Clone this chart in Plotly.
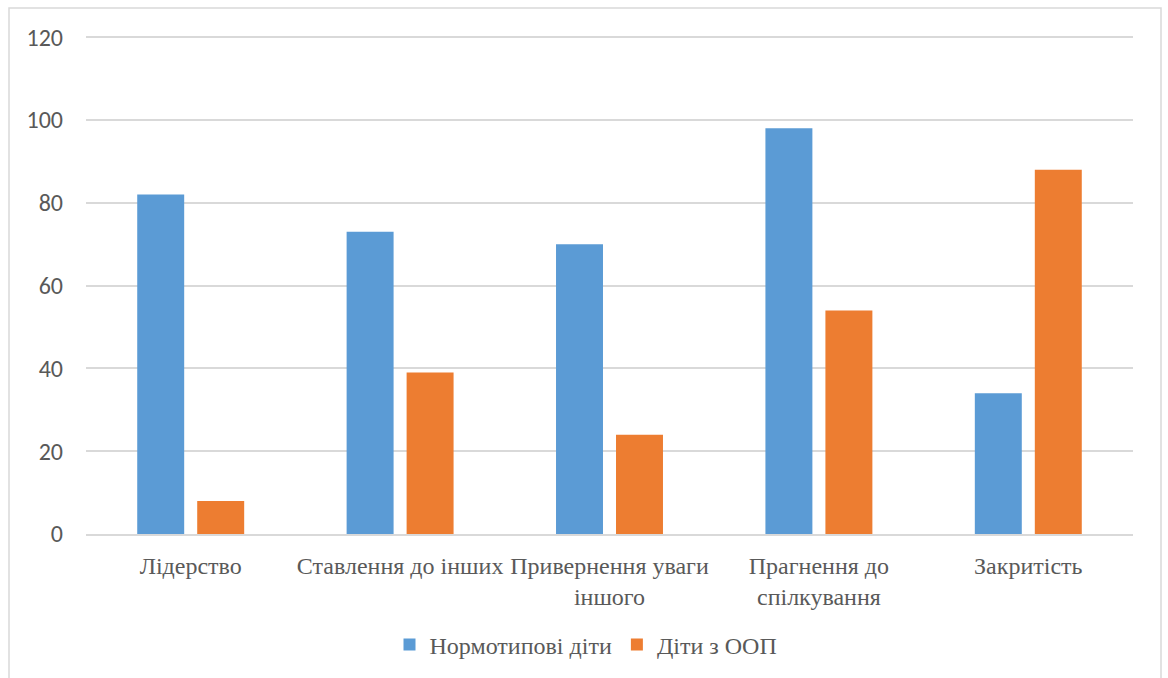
import plotly.graph_objects as go

categories = [
    "Лідерство",
    "Ставлення до інших",
    "Привернення уваги<br>іншого",
    "Прагнення до<br>спілкування",
    "Закритість",
]
normotypical = [82, 73, 70, 98, 34]
special_needs = [8, 39, 24, 54, 88]
y_ticks = [0, 20, 40, 60, 80, 100, 120]

BLUE = "#5B9BD5"
ORANGE = "#ED7D31"
GRID = "#D9D9D9"
TEXT = "#595959"
SERIF = "Liberation Serif"
SANS = "Carlito"

W, H = 1168, 678
L, R, T, B = 86, 35, 33, 143

fig = go.Figure()
fig.add_trace(go.Bar(x=categories, y=normotypical, name="Нормотипові діти",
                     marker=dict(color=BLUE, line=dict(width=0))))
fig.add_trace(go.Bar(x=categories, y=special_needs, name="Діти з ООП",
                     marker=dict(color=ORANGE, line=dict(width=0))))

# outer chart frame (bottom edge runs off the page)
pw, ph = W - L - R, H - T - B
def px_x(x):
    return (x - L) / pw
def px_y(y):
    return (H - B - y) / ph

fig.add_shape(type="rect", xref="paper", yref="paper",
              x0=px_x(9), x1=px_x(1161), y0=px_y(700), y1=px_y(8),
              line=dict(color=GRID, width=1.5), fillcolor="rgba(0,0,0,0)",
              layer="below")

fig.update_layout(
    width=W, height=H,
    margin=dict(l=L, r=R, t=T, b=B),
    font=dict(family=SERIF, size=24, color=TEXT),
    paper_bgcolor="white", plot_bgcolor="white",
    barmode="group", bargap=0.427, bargroupgap=0.217,
    showlegend=True,
    legend=dict(orientation="h", x=px_x(586), xanchor="center", y=px_y(645), yanchor="middle",
                font=dict(family=SERIF, size=24, color=TEXT),
                itemwidth=30, traceorder="normal"),
    xaxis=dict(showgrid=False, showline=True, linecolor=GRID, linewidth=1.5,
               ticks="", tickfont=dict(family=SERIF, size=24, color=TEXT),
               ticklabelstandoff=9),
    yaxis=dict(range=[0, 121], tickvals=y_ticks, showgrid=True, gridcolor=GRID,
               gridwidth=1.5, zeroline=False, showline=False, ticks="",
               tickfont=dict(family=SANS, size=24, color=TEXT),
               ticklabelstandoff=22),
)

fig.write_html("out.html")
